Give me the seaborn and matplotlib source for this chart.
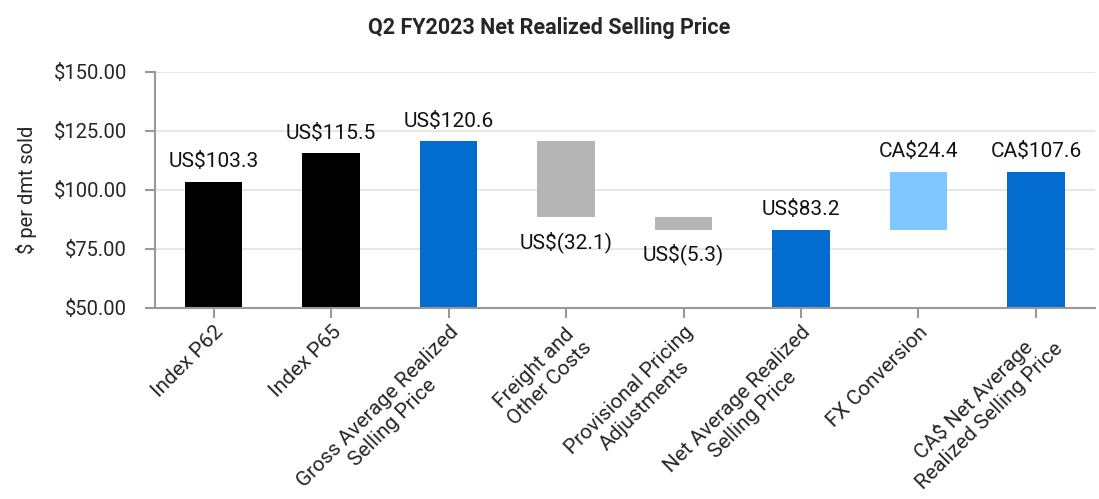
import matplotlib
matplotlib.use("Agg")
import matplotlib.pyplot as plt
import seaborn as sns
import numpy as np

categories = ["Index P62", "Index P65", "Gross Average Realized\nSelling Price",
              "Freight and\nOther Costs", "Provisional Pricing\nAdjustments",
              "Net Average Realized\nSelling Price", "FX Conversion",
              "CA$ Net Average\nRealized Selling Price"]
values = [103.3, 115.5, 120.6, -32.1, -5.3, 83.2, 24.4, 107.6]
kinds = ["total", "total", "total", "delta", "delta", "total", "delta", "total"]
labels = ["US$103.3", "US$115.5", "US$120.6", "US$(32.1)", "US$(5.3)",
          "US$83.2", "CA$24.4", "CA$107.6"]
colors = ["#000000", "#000000", "#036CCF", "#B5B5B5", "#B5B5B5",
          "#036CCF", "#80C6FF", "#036CCF"]

# waterfall geometry from the values
bottoms, tops = [], []
running = 0.0
for v, k in zip(values, kinds):
    if k == "total":
        bottoms.append(0.0); tops.append(v); running = v
    else:
        new = running + v
        bottoms.append(min(running, new)); tops.append(max(running, new)); running = new

sns.set_theme(style="white")
plt.rcParams["font.family"] = ["Roboto", "DejaVu Sans"]

fig = plt.figure(figsize=(10.99, 4.99), dpi=100)
ax = fig.add_axes([0.141, 0.383, 0.855, 0.473])

sns.barplot(x=categories, y=tops, hue=categories, palette=colors,
            legend=False, width=0.49, ax=ax, saturation=1)

for p, b, t in zip(ax.patches, bottoms, tops):
    p.set_y(b)
    p.set_height(t - b)
    p.set_edgecolor("none")

ax.set_ylim(50, 150)
ax.set_yticks([50, 75, 100, 125, 150])
ax.set_yticklabels([f"${v:.2f}" for v in [50, 75, 100, 125, 150]], fontsize=14.5)
ax.yaxis.grid(True, color="#e3e3e3", linewidth=1.2)
ax.set_axisbelow(True)

for s in ["top", "right"]:
    ax.spines[s].set_visible(False)
for s in ["left", "bottom"]:
    ax.spines[s].set_color("#999999")
    ax.spines[s].set_linewidth(1.5)
ax.tick_params(axis="both", which="both", length=7, width=1.5, color="#999999",
               direction="out", left=True, bottom=True)
ax.tick_params(axis="y", pad=13)

ax.set_xticks(range(len(categories)))
ax.set_xticklabels(categories, rotation=45, ha="right", rotation_mode="anchor",
                   fontsize=15, multialignment="center")
ax.set_ylabel("$ per dmt sold", fontsize=14.5, labelpad=12)
ax.set_xlabel("")

for i, (lab, v, b, t) in enumerate(zip(labels, values, bottoms, tops)):
    if v >= 0:
        ax.text(i, t + 4.5, lab, ha="center", va="bottom", fontsize=15, color="#111111")
    else:
        ax.text(i, b - 6, lab, ha="center", va="top", fontsize=15, color="#111111")

fig.suptitle("Q2 FY2023 Net Realized Selling Price", fontsize=15.5,
             fontweight="bold", y=0.965)

fig.savefig("out.png", dpi=100)
